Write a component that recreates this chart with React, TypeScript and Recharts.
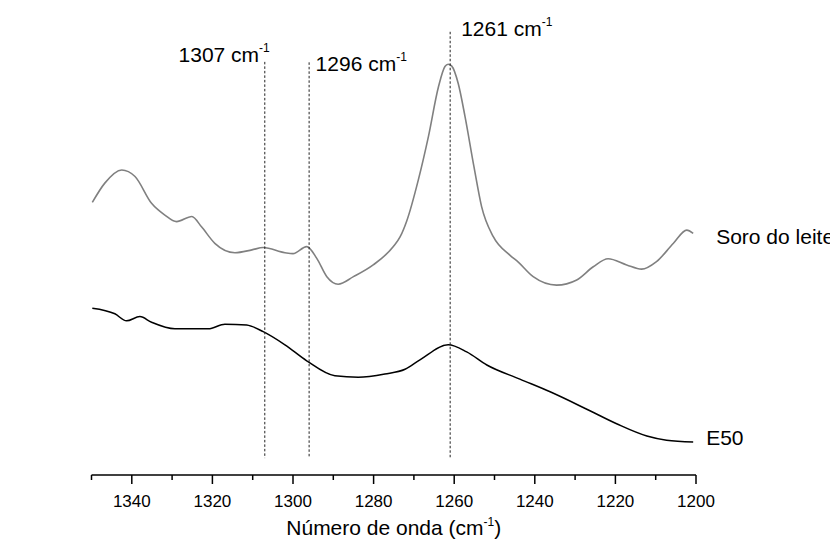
import React from "react";
import { LineChart, Line, XAxis, YAxis, ReferenceLine } from "recharts";

// ---- data ----
const soroWavenumber = [1349.8, 1346.7, 1342.5, 1339.2, 1335.1, 1331.8, 1328.9, 1325.1, 1322.7, 1319.4, 1314.4, 1310.2, 1307.4, 1302.0, 1300.0, 1296.6, 1294.1, 1291.6, 1288.8, 1285.0, 1280.1, 1275.1, 1273.4, 1271.8, 1268.9, 1266.4, 1263.9, 1262.3, 1261.5, 1260.6, 1259.0, 1257.3, 1255.1, 1253.2, 1250.3, 1246.2, 1244.1, 1240.4, 1234.6, 1229.6, 1225.5, 1221.8, 1217.2, 1213.5, 1209.8, 1205.6, 1202.3, 1200.7];
const soroIntensity = [58.0, 62.1, 64.9, 63.5, 57.8, 55.3, 53.9, 55.0, 52.8, 49.3, 47.3, 47.9, 48.4, 47.3, 47.1, 48.6, 46.1, 42.2, 40.6, 42.2, 44.7, 48.6, 50.7, 54.0, 62.8, 72.0, 82.6, 86.9, 87.4, 87.0, 83.3, 76.2, 65.6, 57.1, 50.7, 46.8, 45.3, 42.2, 40.4, 41.5, 44.3, 46.0, 44.7, 43.8, 45.4, 49.3, 52.1, 51.4];

const e50Wavenumber = [1349.8, 1344.2, 1341.3, 1338.0, 1335.1, 1329.3, 1321.0, 1316.9, 1311.5, 1307.4, 1302.0, 1296.6, 1289.6, 1283.8, 1277.2, 1272.2, 1268.5, 1261.5, 1256.9, 1251.9, 1243.7, 1236.2, 1227.1, 1219.7, 1212.2, 1207.3, 1200.7];
const e50Intensity = [35.5, 34.3, 32.8, 33.7, 32.5, 31.1, 31.1, 32.1, 31.9, 30.5, 27.7, 24.3, 21.1, 20.8, 21.5, 22.5, 24.5, 27.7, 26.2, 23.4, 20.4, 17.7, 14.0, 10.9, 8.3, 7.4, 7.0];

const seriesNames = ["Soro do leite", "E50"];
const bandPositions = [1307, 1296, 1261];
const bandLabels = ["1307 cm", "1296 cm", "1261 cm"];

const majorTicks = [1340, 1320, 1300, 1280, 1260, 1240, 1220, 1200];
const allTicks = [1350, 1340, 1330, 1320, 1310, 1300, 1290, 1280, 1270, 1260, 1250, 1240, 1230, 1220, 1210, 1200];
const xTitle = "Número de onda (cm";

const soroData = soroWavenumber.map((w, i) => ({ w, v: soroIntensity[i] }));
const e50Data = e50Wavenumber.map((w, i) => ({ w, v: e50Intensity[i] }));

const FONT = "'Liberation Sans', Arial, sans-serif";

// band line extents (in y units) and label placement
const bandTop = [87.9, 87.8, 94.3];
const bandBottom = 3.6;
const bandLabelStyle = [
  { dx: 5, dy: 0.5, anchor: "end" },
  { dx: 6.5, dy: 8.5, anchor: "start" },
  { dx: 11, dy: 4, anchor: "start" },
];

const TickMark = (props: any) => {
  const { x, y, payload } = props;
  const major = majorTicks.includes(payload.value);
  return (
    <g>
      <line x1={x} x2={x} y1={y} y2={y + (major ? 9 : 5)} stroke="#000" strokeWidth={1.5} />
      {major && (
        <text x={x} y={y + 32} textAnchor="middle" fontSize={17} fontFamily={FONT} fill="#000">
          {payload.value}
        </text>
      )}
    </g>
  );
};

const AxisTitle = (props: any) => {
  const vb = props.viewBox || {};
  const cx = vb.x + vb.width / 2;
  return (
    <text x={cx} y={vb.y + 60} textAnchor="middle" fontSize={21} fontFamily={FONT} fill="#000">
      <tspan>{xTitle}</tspan>
      <tspan dy={-9} fontSize={12}>-1</tspan>
      <tspan dy={9}>)</tspan>
    </text>
  );
};

const makeBandLabel = (i: number) => (props: any) => {
  const vb = props.viewBox || {};
  const x = vb.x;
  const y = vb.y;
  const st = bandLabelStyle[i];
  return (
    <text x={x + st.dx} y={y + st.dy} textAnchor={st.anchor as any} fontSize={21} fontFamily={FONT} fill="#000">
      <tspan>{bandLabels[i]}</tspan>
      <tspan dy={-10} fontSize={12}>-1</tspan>
    </text>
  );
};

const makeEndLabel = (name: string, n: number, dx: number, dy: number) => (props: any) => {
  const { x, y, index } = props;
  if (index !== n - 1) return null;
  return (
    <text x={x + dx} y={y + dy} fontSize={21} fontFamily={FONT} fill="#000">
      {name}
    </text>
  );
};

export default function App() {
  return (
    <div style={{ position: "absolute", left: 0, top: 0, width: 830, height: 548, background: "#fff", overflow: "hidden" }}>
      <LineChart width={830} height={548} margin={{ top: 5, right: 134, bottom: 43, left: 91.5 }}>
        <XAxis
          dataKey="w"
          type="number"
          domain={[1200, 1350]}
          reversed
          height={30}
          ticks={allTicks}
          interval={0}
          tickLine={false}
          tickSize={0}
          tickMargin={0}
          tick={<TickMark />}
          axisLine={{ stroke: "#000", strokeWidth: 1.5 }}
          allowDuplicatedCategory={false}
          label={{ content: <AxisTitle /> } as any}
        />
        <YAxis hide type="number" domain={[0, 100]} />
        <Line
          data={soroData}
          dataKey="v"
          type="monotone"
          stroke="#808080"
          strokeWidth={1.6}
          dot={false}
          isAnimationActive={false}
          label={makeEndLabel(seriesNames[0], soroData.length, 23, 11)}
        />
        <Line
          data={e50Data}
          dataKey="v"
          type="monotone"
          stroke="#000"
          strokeWidth={1.5}
          dot={false}
          isAnimationActive={false}
          label={makeEndLabel(seriesNames[1], e50Data.length, 13, 2.5)}
        />
        {bandPositions.map((b, i) => (
          <ReferenceLine
            key={b}
            segment={[
              { x: b, y: bandTop[i] },
              { x: b, y: bandBottom },
            ]}
            stroke="#222"
            strokeWidth={1}
            strokeDasharray="2.5 2"
            ifOverflow="visible"
            label={{ content: makeBandLabel(i) } as any}
          />
        ))}
      </LineChart>
    </div>
  );
}
